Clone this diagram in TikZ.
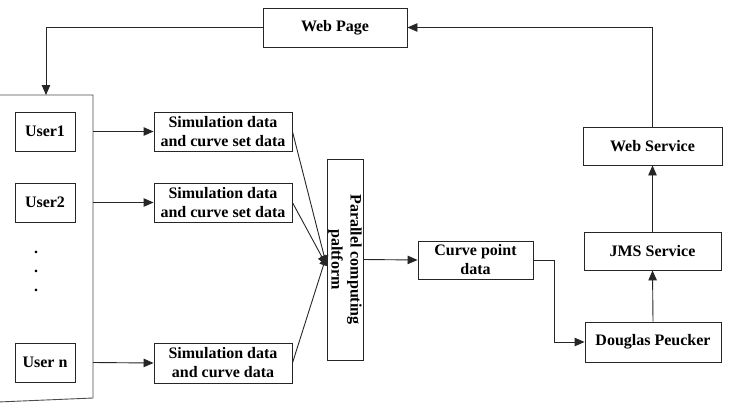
\documentclass[tikz,border=0pt]{standalone}
\usepackage{fontspec}
\setmainfont{Liberation Serif}
\usetikzlibrary{arrows.meta,positioning}
\begin{document}
\begin{tikzpicture}[x=1pt,y=-1pt,
  lbl/.style={font=\bfseries\fontsize{16}{19}\selectfont},
  box/.style={lbl,draw=black!85,line width=0.9pt,fill=white,inner sep=0pt,align=center},
  conn/.style={draw=black!85,line width=0.9pt},
  arr/.style={conn,-{Triangle[length=10pt,width=8.5pt]}}]
\useasboundingbox (0,0) rectangle (730,412);
% container of users (left edge outside the picture)
\coordinate (ctl) at (-2,95);
\coordinate (ctr) at (93,95);
\coordinate (cbr) at (93,398);
\coordinate (cbl) at (-2,402);
\draw[draw=black!70,line width=0.9pt] (ctl) -- (ctr) -- (cbr) -- (cbl);
\node[box,minimum width=60,minimum height=39] (u1) at (45,131.5) {User1};
\node[box,minimum width=60,minimum height=39] (u2) at (45,202.5) {User2};
\node[box,minimum width=60,minimum height=39] (un) at (45,362.5) {User n};
\node[lbl] (d1) at (36,252) {.};
\node[lbl] (d2) at (36,271) {.};
\node[lbl] (d3) at (36,290) {.};
% simulation boxes
\node[box,minimum width=138,minimum height=39] (s1) at (223,131.5) {Simulation data\\and curve set data};
\node[box,minimum width=138,minimum height=39] (s2) at (223,202.5) {Simulation data\\and curve set data};
\node[box,minimum width=138,minimum height=40] (s3) at (223,363) {Simulation data\\and curve data};
% parallel platform
\node[box,minimum width=36,minimum height=201] (par) at (345,259.5) {};
\node[lbl,align=center,rotate=-90,inner sep=0pt] (partext) at (par.center) {Parallel computing\\paltform};
% right side
\node[box,minimum width=115,minimum height=38] (cp) at (475.5,260) {Curve point\\data};
\node[box,minimum width=136,minimum height=40] (dp) at (653,342) {Douglas Peucker};
\node[box,minimum width=137,minimum height=38] (jms) at (652.5,251) {JMS Service};
\node[box,minimum width=139,minimum height=38] (ws) at (652.5,146) {Web Service};
\node[box,minimum width=144,minimum height=39] (wp) at (335,27.5) {Web Page};
% connectors
\draw[arr] (ctr |- u1) -- (s1.west);
\draw[arr] (ctr |- u2) -- (s2.west);
\draw[arr] (ctr |- un) -- (s3.west);
\coordinate (pin1) at ([yshift=-6]par.west);
\coordinate (pin2) at ([yshift=4]par.west);
\draw[arr] (s1.east) -- (pin1);
\draw[arr] (s2.east) -- (pin1);
\draw[arr] (s3.east) -- (pin2);
\draw[arr] (par.east) -- (cp.west);
\draw[arr] (cp.east) -- ++(21,0) |- (dp.west);
\draw[arr] (dp.north) -- (jms.south);
\draw[arr] (jms.north) -- (ws.south);
\draw[arr] (ws.north) |- (wp.east);
\coordinate (utop) at (46,95);
\draw[arr] (wp.west) -| (utop);
\end{tikzpicture}
\end{document}
